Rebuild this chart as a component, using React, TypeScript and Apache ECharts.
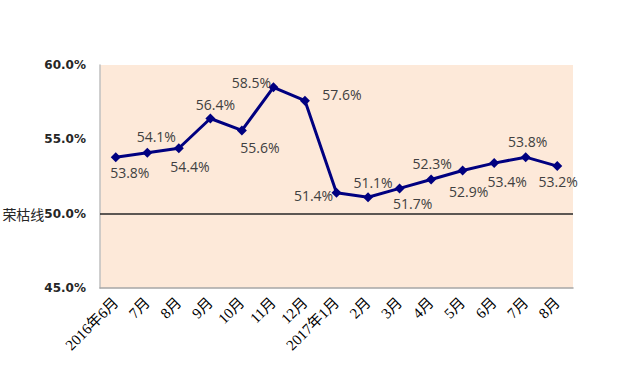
import React, { useEffect, useRef } from "react";
import * as echarts from "echarts";

const categories = ["2016年6月", "7月", "8月", "9月", "10月", "11月", "12月", "2017年1月", "2月", "3月", "4月", "5月", "6月", "7月", "8月"];
const pmiValues = [53.8, 54.1, 54.4, 56.4, 55.6, 58.5, 57.6, 51.4, 51.1, 51.7, 52.3, 52.9, 53.4, 53.8, 53.2];
const yTicks = [45, 50, 55, 60];

// label placement (pixel offsets of each label's centre from its marker)
const labelOffsets: number[][] = [
  [14, 15], [9, -16], [11, 18], [5, -14], [18, 17], [-22, -5], [37, -6], [-23, 3],
  [5, -15], [13, 15], [1, -16], [6, 21], [13, 18], [2, -16], [1, 15],
];

export default function App() {
  const ref = useRef<HTMLDivElement>(null);
  useEffect(() => {
    if (!ref.current) return;
    const chart = echarts.init(ref.current, null, { renderer: "svg" });
    chart.setOption({
      animation: false,
      grid: {
        left: 100,
        right: 48,
        top: 65,
        bottom: 81,
        backgroundColor: "#FDE9D9",
        show: true,
        borderWidth: 0,
        containLabel: false,
        outerBoundsMode: "none",
      },
      xAxis: {
        type: "category",
        data: categories,
        boundaryGap: true,
        axisLine: { lineStyle: { color: "#A6A6A6", width: 1.5 } },
        axisTick: { show: false },
        axisLabel: {
          rotate: 45,
          interval: 0,
          color: "#000",
          fontSize: 15,
          margin: 12,
          fontFamily: "'Liberation Serif', 'Noto Sans CJK SC', serif",
        },
      },
      yAxis: {
        type: "value",
        min: yTicks[0],
        max: yTicks[yTicks.length - 1],
        interval: 5,
        splitLine: { show: false },
        axisTick: { show: false },
        axisLine: { show: true, lineStyle: { color: "#BFBFBF", width: 1.5 } },
        axisLabel: {
          margin: 14,
          formatter: (v: number) => (v === 50 ? "{a|荣枯线}" + v.toFixed(1) + "%" : v.toFixed(1) + "%"),
          color: "#262626",
          fontWeight: "bold",
          fontSize: 12,
          fontFamily: "'DejaVu Sans', sans-serif",
          rich: {
            a: { fontWeight: "normal", fontSize: 14, color: "#262626", fontFamily: "'Noto Sans CJK SC', sans-serif" },
          },
        },
      },
      series: [
        {
          type: "line",
          data: pmiValues.map((v, i) => ({
            value: v,
            label: { position: "inside", offset: labelOffsets[i] },
          })),
          symbol: "diamond",
          symbolSize: 10,
          lineStyle: { color: "#000080", width: 3 },
          itemStyle: { color: "#000080" },
          label: {
            show: true,
            formatter: (p: any) => p.value.toFixed(1) + "%",
            color: "#404040",
            fontSize: 14,
            align: "center",
            verticalAlign: "middle",
            fontFamily: "'Open Sans', 'Noto Sans', sans-serif",
          },
          markLine: {
            silent: true,
            symbol: "none",
            label: { show: false },
            lineStyle: { color: "#262626", width: 1.5, type: "solid" },
            data: [{ yAxis: 50 }],
          },
          z: 3,
        },
      ],
    });
    return () => chart.dispose();
  }, []);
  return <div ref={ref} style={{ position: "absolute", left: 0, top: 0, width: 621, height: 369 }} />;
}
